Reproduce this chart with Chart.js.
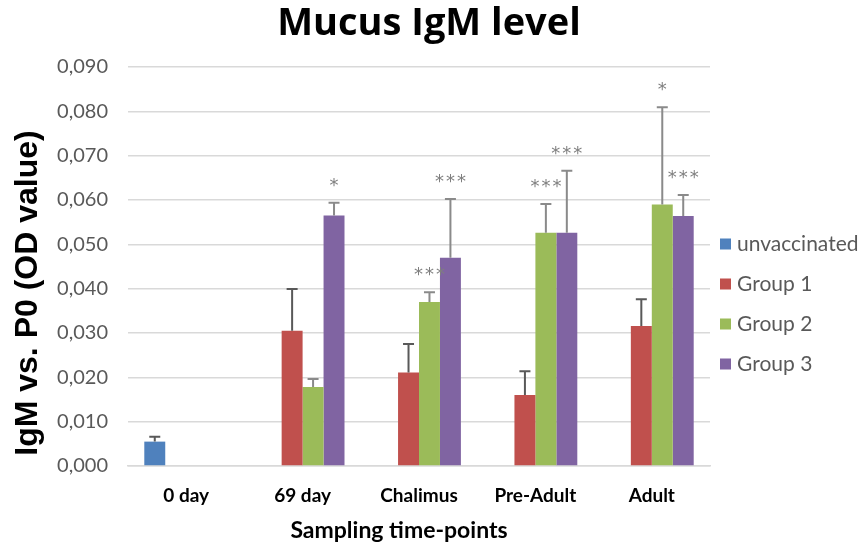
<!DOCTYPE html>
<html>
<head>
<meta charset="utf-8">
<script src="https://cdn.jsdelivr.net/npm/chart.js@4/dist/chart.umd.min.js"></script>
<style>
  html, body { margin: 0; padding: 0; background: #ffffff; }
  #wrap { width: 858px; height: 545px; position: relative; }
</style>
</head>
<body>
<div id="wrap"><canvas id="chart"></canvas></div>
<script>
// Sampling time-points
const categories = ['0 day', '69 day', 'Chalimus', 'Pre-Adult', 'Adult'];

// Mean IgM vs. P0 (OD value) per group
const unvaccinated = [0.0055, null, null, null, null];
const group1 = [null, 0.0305, 0.0211, 0.0160, 0.0316];
const group2 = [null, 0.0178, 0.0370, 0.0526, 0.0590];
const group3 = [null, 0.0565, 0.0470, 0.0526, 0.0564];

// Upper error (SD) per group
const unvaccinatedErr = [0.0011, null, null, null, null];
const group1Err = [null, 0.0094, 0.0064, 0.0054, 0.0060];
const group2Err = [null, 0.0018, 0.0022, 0.0065, 0.0219];
const group3Err = [null, 0.0029, 0.0132, 0.0140, 0.0047];

// Significance marks
const group2Sig = ['', '', '***', '***', '*'];
const group3Sig = ['', '*', '***', '***', '***'];

// Axis ticks
const yMin = 0, yMax = 0.09, yStep = 0.01;

const seriesStyle = [
  { color: '#4f81bd', err: '#595959' },
  { color: '#c0504d', err: '#595959' },
  { color: '#9bbb59', err: '#8a8a8a' },
  { color: '#8064a2', err: '#8a8a8a' }
];

// Error bars with significance asterisks on top
const errorBars = {
  id: 'errorBars',
  afterDatasetsDraw(chart) {
    const ctx = chart.ctx;
    const ys = chart.scales.y;
    chart.data.datasets.forEach((ds, i) => {
      const meta = chart.getDatasetMeta(i);
      meta.data.forEach((bar, j) => {
        const v = ds.data[j], e = ds.errors[j];
        if (v == null || e == null) return;
        const x = bar.x;
        const y0 = ys.getPixelForValue(v);
        const y1 = ys.getPixelForValue(v + e);
        ctx.save();
        ctx.strokeStyle = ds.errorColor;
        ctx.lineWidth = 2;
        ctx.beginPath();
        ctx.moveTo(x, y0);
        ctx.lineTo(x, y1);
        ctx.moveTo(x - 5.5, y1);
        ctx.lineTo(x + 5.5, y1);
        ctx.stroke();
        const s = ds.sig ? ds.sig[j] : '';
        if (s) {
          ctx.fillStyle = '#7f7f7f';
          ctx.font = '18px "DejaVu Sans"';
          ctx.letterSpacing = '2px';
          ctx.textAlign = 'center';
          ctx.textBaseline = 'alphabetic';
          ctx.fillText(s, x + 1, y1 - 12);
        }
        ctx.restore();
      });
    });
  }
};

// Chart title, axis titles and side legend
const decorations = {
  id: 'decorations',
  afterDraw(chart) {
    const ctx = chart.ctx;
    ctx.save();
    ctx.fillStyle = '#000000';
    ctx.font = 'bold 38px "Open Sans"';
    ctx.textAlign = 'center';
    ctx.textBaseline = 'middle';
    ctx.fillText('Mucus IgM level', 429, 24);
    ctx.restore();

    // y axis title
    ctx.save();
    ctx.fillStyle = '#000000';
    ctx.font = 'bold 32px "Liberation Sans"';
    ctx.textAlign = 'center';
    ctx.textBaseline = 'middle';
    ctx.translate(28, 293);
    ctx.rotate(-Math.PI / 2);
    ctx.fillText('IgM vs. P0 (OD value)', 0, 0);
    ctx.restore();

    // x axis title
    ctx.save();
    ctx.fillStyle = '#000000';
    ctx.font = 'bold 23px Lato';
    ctx.textAlign = 'center';
    ctx.textBaseline = 'middle';
    ctx.fillText('Sampling time-points', 399, 531);
    ctx.restore();

    // legend
    ctx.save();
    chart.data.datasets.forEach((ds, i) => {
      const cy = 244 + i * 40;
      ctx.fillStyle = ds.backgroundColor;
      ctx.fillRect(720, cy - 5.5, 11, 11);
      ctx.fillStyle = '#595959';
      ctx.font = '21px Lato';
      ctx.textAlign = 'left';
      ctx.textBaseline = 'middle';
      ctx.fillText(ds.label, 737, cy);
    });
    ctx.restore();
  }
};

const mkSet = (label, data, errors, sig, style) => ({
  label, data, errors, sig,
  backgroundColor: style.color,
  borderWidth: 0,
  errorColor: style.err,
  barPercentage: 1.0,
  categoryPercentage: 0.72
});

new Chart(document.getElementById('chart'), {
  type: 'bar',
  data: {
    labels: categories,
    datasets: [
      mkSet('unvaccinated', unvaccinated, unvaccinatedErr, null, seriesStyle[0]),
      mkSet('Group 1', group1, group1Err, null, seriesStyle[1]),
      mkSet('Group 2', group2, group2Err, group2Sig, seriesStyle[2]),
      mkSet('Group 3', group3, group3Err, group3Sig, seriesStyle[3])
    ]
  },
  options: {
    responsive: true,
    maintainAspectRatio: false,
    animation: false,
    layout: { padding: { top: 67, right: 148, bottom: 0, left: 0 } },
    plugins: {
      legend: { display: false },
      tooltip: { enabled: false },
      title: { display: false }
    },
    scales: {
      x: {
        grid: { display: false, drawTicks: false },
        border: { display: true, color: '#d9d9d9', width: 1.5 },
        ticks: {
          color: '#000000',
          font: { family: 'Lato', size: 19, weight: 'bold' },
          padding: 18,
          maxRotation: 0
        },
        afterFit(scale) { scale.height = 79; }
      },
      y: {
        min: yMin,
        max: yMax,
        grid: { color: '#d9d9d9', lineWidth: 1.5, drawTicks: false },
        border: { display: false },
        ticks: {
          stepSize: yStep,
          color: '#595959',
          font: { family: 'Lato', size: 20 },
          padding: 20,
          callback: (v) => Number(v).toFixed(3).replace('.', ',')
        },
        afterFit(scale) { scale.width = 128; }
      }
    }
  },
  plugins: [errorBars, decorations]
});
</script>
</body>
</html>
